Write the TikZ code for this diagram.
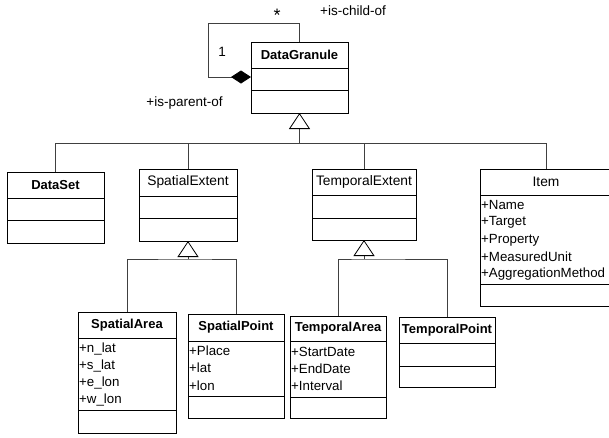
\documentclass[tikz,border=0pt]{standalone}
\usepackage{fontspec}
\setmainfont{Liberation Sans}
\usetikzlibrary{arrows.meta}
\begin{document}
\begin{tikzpicture}[x=1pt,y=-1pt,
  cls/.style={draw, line width=1pt, inner sep=0pt, outer sep=0pt, anchor=north west},
  divl/.style={line width=1pt},
  ttl/.style={font=\fontsize{13}{15}\selectfont\bfseries, inner sep=0pt},
  ttlr/.style={font=\fontsize{13.8}{16}\selectfont, inner sep=0pt},
  attr/.style={anchor=west, inner sep=0pt, font=\fontsize{13.3}{15}\selectfont},
  conn/.style={draw=black!75, line width=0.8pt},
  gen/.style={conn, -{Triangle[open, length=16pt, width=21pt, fill=white, color=black]}},
  comp/.style={conn, -{Diamond[length=20pt, width=13pt, fill=black, color=black]}},
  lbl/.style={font=\fontsize{13.5}{15}\selectfont, inner sep=0pt}
]
\useasboundingbox (0,0) rectangle (609,437);
\clip (0,0) rectangle (609,437);

% ---- DataGranule
\node[cls, minimum width=97pt, minimum height=71pt] (dg) at (251,42) {};
\draw[divl] (251,68) -- (348,68);
\draw[divl] (251,90) -- (348,90);
\node[ttl] (dgt) at (299.5,55) {DataGranule};

% ---- DataSet
\node[cls, minimum width=97pt, minimum height=71pt] (ds) at (7,172) {};
\draw[divl] (7,198) -- (104,198);
\draw[divl] (7,220) -- (104,220);
\node[ttl] (dst) at (55.5,185) {DataSet};

% ---- SpatialExtent
\node[cls, minimum width=98pt, minimum height=72pt] (se) at (139,169) {};
\draw[divl] (139,196) -- (237,196);
\draw[divl] (139,218) -- (237,218);
\node[ttlr] (set) at (188,182) {SpatialExtent};

% ---- TemporalExtent
\node[cls, minimum width=104pt, minimum height=71pt] (te) at (312,169) {};
\draw[divl] (312,195) -- (416,195);
\draw[divl] (312,218) -- (416,218);
\node[ttlr] (tet) at (364,182) {TemporalExtent};

% ---- Item
\node[cls, minimum width=132pt, minimum height=137pt] (it) at (480,169) {};
\draw[divl] (480,195) -- (612,195);
\draw[divl] (480,284) -- (612,284);
\node[ttlr] (itt) at (546,182) {Item};
\node[attr] (it1) at (481,205) {+Name};
\node[attr] (it2) at (481,222.5) {+Target};
\node[attr] (it3) at (481,240) {+Property};
\node[attr] (it4) at (481,257) {+MeasuredUnit};
\node[attr] (it5) at (481,274) {+AggregationMethod};

% ---- SpatialArea
\node[cls, minimum width=98pt, minimum height=121pt] (sa) at (78,312) {};
\draw[divl] (78,338) -- (176,338);
\draw[divl] (78,410) -- (176,410);
\node[ttl] (sat) at (127,325) {SpatialArea};
\node[attr] (sa1) at (79,349) {+n\_lat};
\node[attr] (sa2) at (79,366) {+s\_lat};
\node[attr] (sa3) at (79,383) {+e\_lon};
\node[attr] (sa4) at (79,400) {+w\_lon};

% ---- SpatialPoint
\node[cls, minimum width=96pt, minimum height=104pt] (sp) at (188,314) {};
\draw[divl] (188,341) -- (284,341);
\draw[divl] (188,396) -- (284,396);
\node[ttl] (spt) at (236,327.5) {SpatialPoint};
\node[attr] (sp1) at (189,351) {+Place};
\node[attr] (sp2) at (189,368) {+lat};
\node[attr] (sp3) at (189,386) {+lon};

% ---- TemporalArea
\node[cls, minimum width=96pt, minimum height=102pt] (ta) at (290,316) {};
\draw[divl] (290,341) -- (386,341);
\draw[divl] (290,397) -- (386,397);
\node[ttl] (tat) at (338,328.5) {TemporalArea};
\node[attr] (ta1) at (291,352) {+StartDate};
\node[attr] (ta2) at (291,369) {+EndDate};
\node[attr] (ta3) at (291,386) {+Interval};

% ---- TemporalPoint
\node[cls, minimum width=96pt, minimum height=70pt] (tp) at (399,317) {};
\draw[divl] (399,343) -- (495,343);
\draw[divl] (399,366) -- (495,366);
\node[ttl] (tpt) at (447,330) {TemporalPoint};

% ---- self association of DataGranule
\coordinate (loopa) at (208,23);
\coordinate (loopb) at (251,77);
\draw[comp] (dg.north) |- (loopa) |- (loopb);
\node[lbl, font=\fontsize{18}{18}\selectfont] (star) at (277,15) {*};
\node[lbl] (child) at (353,11) {+is-child-of};
\node[lbl] (one) at (222,52) {1};
\node[lbl] (parent) at (184.5,103) {+is-parent-of};

% ---- generalisation to DataGranule
\coordinate (bus1) at (299.5,143);
\draw[gen] (bus1) -- (dg.south);
\draw[conn] (ds.north) |- (bus1);
\draw[conn] (bus1) -| (it.north);
\draw[conn] (se.north) -- (se.north |- bus1);
\draw[conn] (te.north) -- (te.north |- bus1);

% ---- generalisation to SpatialExtent
\coordinate (bus2) at (188,259);
\draw[gen] (bus2) -- (se.south);
\draw[conn] (sa.north) |- (bus2) -| (sp.north);

% ---- generalisation to TemporalExtent
\coordinate (bus3) at (364,259);
\draw[gen] (bus3) -- (te.south);
\draw[conn] (ta.north) |- (bus3) -| (tp.north);
\end{tikzpicture}
\end{document}
